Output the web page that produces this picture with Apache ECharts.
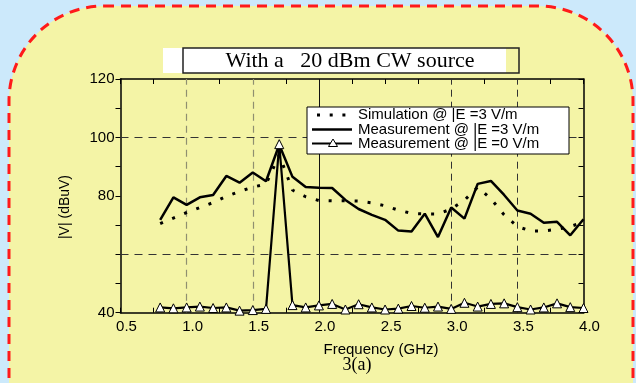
<!DOCTYPE html>
<html>
<head>
<meta charset="utf-8">
<script src="https://cdn.jsdelivr.net/npm/echarts@6/dist/echarts.min.js"></script>
<style>
  html, body { margin: 0; padding: 0; background: #cce9fb; }
  #main { width: 636px; height: 383px; }
</style>
</head>
<body>
<div id="main"></div>
<script>
// frequency points (GHz)
var freq = [0.8, 0.9, 1.0, 1.1, 1.2, 1.3, 1.4, 1.5, 1.6, 1.7, 1.8, 1.9, 2.0, 2.1, 2.2, 2.3, 2.4,
            2.5, 2.6, 2.7, 2.8, 2.9, 3.0, 3.1, 3.2, 3.3, 3.4, 3.5, 3.6, 3.7, 3.8, 3.9, 4.0];
// Simulation @ |E| = 3 V/m
var simE3 = [70.5, 72.4, 74.3, 76.0, 77.7, 79.8, 81.5, 83.0, 84.0, 94.0, 82.0, 79.7, 78.4, 78.3, 78.3, 78.2, 77.6,
             76.6, 75.1, 74.0, 73.8, 73.8, 75.5, 78.5, 83.0, 79.0, 73.5, 69.5, 68.0, 68.0, 68.5, 69.5, 71.0];
// Measurement @ |E| = 3 V/m
var measE3 = [71.8, 79.5, 76.9, 79.5, 80.3, 86.8, 84.5, 88.0, 85.0, 97.5, 86.5, 83.0, 82.8, 82.7, 78.6, 75.5, 73.5,
              71.8, 68.1, 67.8, 73.9, 65.9, 76.0, 72.2, 84.1, 85.1, 80.3, 75.0, 73.9, 70.8, 71.1, 66.5, 72.0];
// Measurement @ |E| = 0 V/m
var measE0 = [41.8, 41.5, 41.8, 42.1, 41.6, 41.8, 40.7, 40.9, 41.3, 97.7, 42.6, 41.8, 42.5, 43.0, 41.1, 42.9, 41.8,
              41.1, 41.4, 42.3, 41.7, 42.1, 41.3, 43.4, 42.1, 43.0, 43.2, 41.9, 41.1, 41.8, 43.2, 41.9, 41.6];

var yLabels = [40, 80, 100, 120];     // only these y values carry a label
var dashGridX = [1.0, 1.5];           // grey dashed verticals
var darkGridX = [3.0, 3.5];           // dark dashed verticals
var solidGridX = [2.0];               // thin solid vertical
var dashGridY = [100, 60];            // dashed horizontals

var names = ['Simulation @ |E =3 V/m', 'Measurement @ |E =3 V/m', 'Measurement @ |E =0 V/m'];

function pairs(vals) {
  return freq.map(function (f, i) { return [f, vals[i]]; });
}

var gridLines = [];
dashGridX.forEach(function (v) {
  gridLines.push({ xAxis: v, lineStyle: { color: '#8f8f70', type: [7, 5], width: 1.2 } });
});
darkGridX.forEach(function (v) {
  gridLines.push({ xAxis: v, lineStyle: { color: '#333', type: [7, 5], width: 1 } });
});
solidGridX.forEach(function (v) {
  gridLines.push({ xAxis: v, lineStyle: { color: '#111', type: 'solid', width: 1 } });
});
dashGridY.forEach(function (v) {
  gridLines.push({ yAxis: v, lineStyle: { color: '#333', type: [8, 6], width: 1 } });
});

var font = 'Liberation Sans, Arial, sans-serif';
var axisCommon = {
  axisLine: { lineStyle: { color: '#000', width: 1.5 } },
  splitLine: { show: false }
};

// hand-made legend box (icons + real text)
var legX = 307, legY = 107, rowY = [115, 129.5, 143.5];
var legend = [
  { type: 'rect', z: 20, shape: { x: legX, y: legY, width: 262, height: 47 },
    style: { fill: '#fff', stroke: '#000', lineWidth: 1 } },
  { type: 'line', z: 21, shape: { x1: 317, y1: rowY[0], x2: 348, y2: rowY[0] },
    style: { stroke: '#000', lineWidth: 3, lineDash: [3, 9.7] } },
  { type: 'line', z: 21, shape: { x1: 312, y1: rowY[1], x2: 352, y2: rowY[1] },
    style: { stroke: '#000', lineWidth: 2.5 } },
  { type: 'line', z: 21, shape: { x1: 312, y1: rowY[2], x2: 352, y2: rowY[2] },
    style: { stroke: '#000', lineWidth: 2.2 } },
  { type: 'polygon', z: 22, shape: { points: [[333, rowY[2] - 4.5], [337.5, rowY[2] + 3], [328.5, rowY[2] + 3]] },
    style: { fill: '#fff', stroke: '#000', lineWidth: 1 } }
];
names.forEach(function (n, i) {
  legend.push({ type: 'text', z: 22, x: 358, y: rowY[i],
    style: { text: n, font: '15px "Liberation Sans", Arial, sans-serif', fill: '#000',
             textAlign: 'left', textVerticalAlign: 'middle' } });
});

var option = {
  animation: false,
  backgroundColor: '#cce9fb',
  grid: { left: 120.5, right: 52.5, top: 79, bottom: 70.3 },
  graphic: [
    {
      type: 'rect', z: -10,
      shape: { x: 9, y: 6, width: 624, height: 470, r: 95 },
      style: { fill: '#f4f4a6', stroke: '#ff1a1a', lineWidth: 3, lineDash: [10, 7] }
    },
    {
      type: 'rect', z: 5,
      shape: { x: 163, y: 48, width: 343, height: 25 },
      style: { fill: '#fff' }
    },
    {
      type: 'rect', z: 6,
      shape: { x: 183, y: 48, width: 336, height: 25 },
      style: { fill: 'none', stroke: '#222', lineWidth: 1.5 }
    },
    {
      type: 'text', z: 7, x: 350, y: 61,
      style: { text: 'With a   20 dBm CW source', font: '22px "Liberation Serif", serif',
               fill: '#000', textAlign: 'center', textVerticalAlign: 'middle' }
    },
    {
      type: 'text', z: 7, x: 381, y: 350,
      style: { text: 'Frequency (GHz)', font: '15px "Liberation Sans", Arial, sans-serif',
               fill: '#000', textAlign: 'center', textVerticalAlign: 'middle' }
    },
    {
      type: 'text', z: 7, x: 357, y: 365,
      style: { text: '3(a)', font: '18px "Liberation Serif", serif',
               fill: '#000', textAlign: 'center', textVerticalAlign: 'middle' }
    },
    {
      type: 'text', z: 7, x: 65, y: 207, rotation: Math.PI / 2,
      style: { text: '|V| (dBuV)', font: '14px "Liberation Sans", Arial, sans-serif',
               fill: '#000', textAlign: 'center', textVerticalAlign: 'middle' }
    }
  ].concat(legend),
  xAxis: [
    Object.assign({}, axisCommon, {
      type: 'value', min: 0.5, max: 4.0, interval: 0.5, position: 'bottom',
      axisTick: { inside: true, length: 5, lineStyle: { color: '#000' } },
      minorTick: { show: true, splitNumber: 2, length: 5, lineStyle: { color: '#000' } },
      axisLabel: {
        color: '#000', fontFamily: font, fontSize: 15, margin: 7, padding: [0, 0, 0, 12],
        formatter: function (v) { return v.toFixed(1); }
      }
    }),
    Object.assign({}, axisCommon, {
      type: 'value', min: 0.5, max: 4.0, interval: 0.5, position: 'top',
      axisTick: { inside: true, length: 5, lineStyle: { color: '#000' } },
      minorTick: { show: true, splitNumber: 2, length: 5, lineStyle: { color: '#000' } },
      axisLabel: { show: false }
    })
  ],
  yAxis: [
    Object.assign({}, axisCommon, {
      type: 'value', min: 40, max: 120, interval: 10, position: 'left',
      axisTick: { inside: false, length: 5, lineStyle: { color: '#000' } },
      axisLabel: {
        color: '#000', fontFamily: font, fontSize: 15, margin: 6,
        formatter: function (v) { return yLabels.indexOf(v) >= 0 ? String(v) : ''; }
      }
    }),
    Object.assign({}, axisCommon, {
      type: 'value', min: 40, max: 120, interval: 10, position: 'right',
      axisTick: { inside: true, length: 5, lineStyle: { color: '#000' } },
      axisLabel: { show: false }
    })
  ],
  series: [
    {
      name: names[0], type: 'line', data: pairs(simE3), symbol: 'none', z: 3,
      lineStyle: { color: '#000', width: 3, type: [3, 10] },
      itemStyle: { color: '#000' },
      markLine: { silent: true, symbol: 'none', label: { show: false }, data: gridLines, z: 1 }
    },
    {
      name: names[1], type: 'line', data: pairs(measE3), symbol: 'none', z: 4,
      lineStyle: { color: '#000', width: 2.5 },
      itemStyle: { color: '#000' }
    },
    {
      name: names[2], type: 'line', data: pairs(measE0), z: 5,
      symbol: 'triangle', symbolSize: 9,
      lineStyle: { color: '#000', width: 2.2 },
      itemStyle: { color: '#fff', borderColor: '#000', borderWidth: 1 }
    }
  ]
};

var myChart = echarts.init(document.getElementById('main'));
myChart.setOption(option);
</script>
</body>
</html>
